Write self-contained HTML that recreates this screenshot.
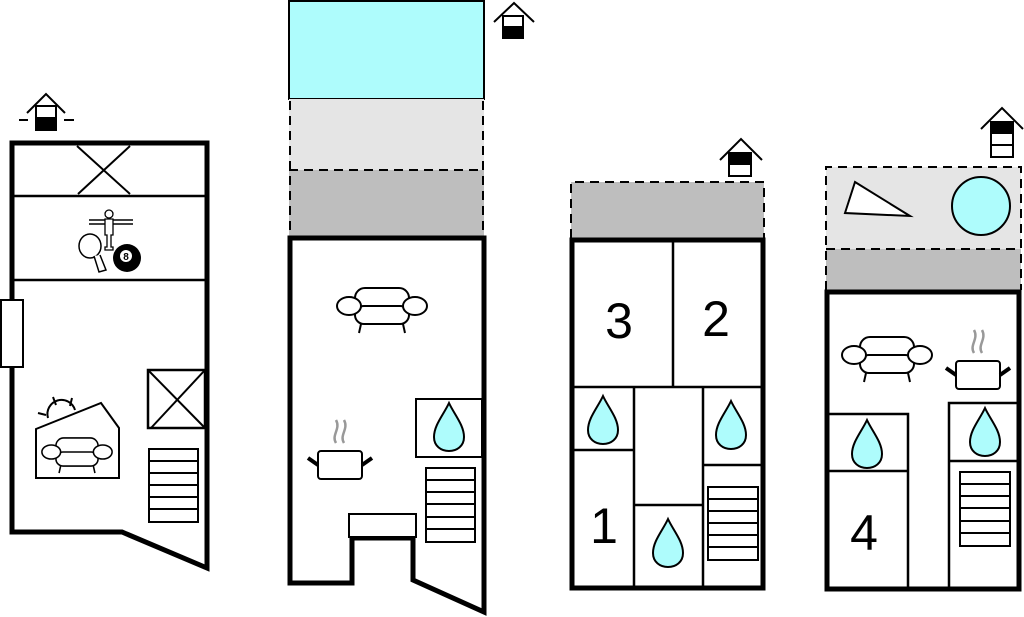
<!DOCTYPE html>
<html><head><meta charset="utf-8"><style>html,body{margin:0;padding:0;background:#fff;}svg{display:block}</style></head>
<body>
<svg width="1024" height="617" viewBox="0 0 1024 617" xmlns="http://www.w3.org/2000/svg" font-family="Liberation Sans, sans-serif">
<defs>
<g id="drop"><path d="M0,-24 C-5,-13 -15,-2 -15,10 C-15,19 -8,24 0,24 C8,24 15,19 15,10 C15,-2 5,-13 0,-24 Z" fill="#aefcfc" stroke="#000" stroke-width="2"/></g>
<g id="sofa" fill="#fff" stroke="#000" stroke-width="2">
<rect x="-27" y="-18" width="54" height="22" rx="10"/>
<rect x="-27" y="0" width="54" height="18" rx="9"/>
<ellipse cx="-33" cy="0" rx="12" ry="9"/>
<ellipse cx="33" cy="0" rx="12" ry="9"/>
<line x1="-21" y1="18" x2="-23" y2="27"/><line x1="21" y1="18" x2="23" y2="27"/>
</g>
<g id="pot">
<path d="M-4,-22 C-9,-30 1,-36 -4,-45 M4,-22 C-1,-30 9,-36 4,-45" fill="none" stroke="#999" stroke-width="2.5"/>
<rect x="-22" y="-14" width="44" height="28" rx="3" fill="#fff" stroke="#000" stroke-width="2"/>
<line x1="-22" y1="0" x2="-32" y2="-7" stroke="#000" stroke-width="4"/>
<line x1="22" y1="0" x2="32" y2="-7" stroke="#000" stroke-width="4"/>
</g>
</defs>

<!-- PLAN 1 -->
<g stroke="#000" fill="none">
<path d="M12,143 L207,143 L207,568 L122,532 L12,532 Z" stroke-width="5" fill="#fff"/>
<line x1="12" y1="196" x2="207" y2="196" stroke-width="2.5"/>
<line x1="12" y1="280" x2="207" y2="280" stroke-width="2.5"/>
<line x1="77" y1="146" x2="130" y2="194" stroke-width="2"/>
<line x1="130" y1="146" x2="78" y2="194" stroke-width="2"/>
<rect x="1" y="300" width="22" height="67" fill="#fff" stroke-width="2"/>
<rect x="148" y="370" width="57" height="58" stroke-width="2.5"/>
<line x1="148" y1="370" x2="205" y2="428" stroke-width="2"/><line x1="205" y1="370" x2="151" y2="428" stroke-width="2"/>
<rect x="149" y="449" width="49" height="73" stroke-width="2"/>
<path d="M149,461 H198 M149,473 H198 M149,485 H198 M149,497 H198 M149,509 H198" stroke-width="2"/>
<path d="M48,418 A14,14 0 0 1 75,410" stroke-width="2"/>
<path d="M53,397 L56,405 M72,398 L70,406 M38,413 L46,415" stroke-width="2"/>
<path d="M36,429 L101,403 L119,428 L119,478 L36,478 Z" fill="#fff" stroke-width="2"/>
<!-- games -->
<path d="M89,220 H133 M89,224 H133" stroke-width="1.5"/>
<circle cx="109" cy="214" r="4" fill="#fff" stroke-width="1.3"/>
<path d="M105,219 h8 v16 h-2 v12 h2 v3 h-8 v-3 h2 v-12 h-2 z" fill="#fff" stroke-width="1.3"/>
<ellipse cx="90" cy="246" rx="11" ry="12" fill="#fff" stroke-width="1.5"/>
<path d="M94,256 L99,272 L106,270 L100,255" fill="#fff" stroke-width="1.5"/>
</g>
<g transform="translate(77,452) scale(0.78)"><use href="#sofa"/></g>
<circle cx="127" cy="258" r="14" fill="#000"/>
<circle cx="126" cy="256" r="6" fill="#fff"/>
<text x="126" y="260" font-size="10" font-weight="bold" text-anchor="middle">8</text>
<!-- house icon 1 -->
<g stroke="#000" stroke-width="2" fill="none"><path d="M27,113 L46,94 L65,113"/><rect x="36" y="106" width="20" height="24" fill="#fff"/><rect x="36" y="118" width="20" height="12" fill="#000"/><path d="M19,120 H28 M64,120 H74"/></g>

<!-- PLAN 2 -->
<rect x="289" y="1" width="195" height="98" fill="#aefcfc" stroke="#000" stroke-width="2"/>
<rect x="289" y="99" width="195" height="71" fill="#e5e5e5"/>
<rect x="289" y="170" width="195" height="68" fill="#bebebe"/>
<g stroke="#000" stroke-width="2" stroke-dasharray="9,6" fill="none">
<path d="M290,101 V238 M483,101 V238 M289,170 H484"/></g>
<path d="M290,238 H484 V612 L413,580 V538 H352 V583 H290 Z" fill="#fff" stroke="#000" stroke-width="5"/>
<rect x="349" y="514" width="67" height="23" fill="#fff" stroke="#000" stroke-width="2"/>
<rect x="416" y="399" width="66" height="58" fill="#fff" stroke="#000" stroke-width="2"/>
<use href="#drop" x="449" y="427"/>
<g stroke="#000" stroke-width="2" fill="none"><rect x="426" y="468" width="49" height="74"/><path d="M426,480 H475 M426,492 H475 M426,504 H475 M426,517 H475 M426,529 H475"/></g>
<use href="#sofa" x="382" y="306"/>
<use href="#pot" x="340" y="465"/>
<g stroke="#000" stroke-width="2" fill="none"><path d="M494,22 L514,3 L534,22"/><rect x="503" y="16" width="20" height="22" fill="#fff"/><rect x="503" y="27" width="20" height="11" fill="#000"/></g>

<!-- PLAN 3 -->
<rect x="571" y="182" width="193" height="56" fill="#bebebe"/>
<path d="M571,238 V182 H764 V238" fill="none" stroke="#000" stroke-width="2" stroke-dasharray="9,6"/>
<rect x="572" y="240" width="191" height="348" fill="#fff" stroke="#000" stroke-width="5"/>
<g stroke="#000" stroke-width="2.5" fill="none">
<path d="M673,240 V387 M572,387 H763 M634,387 V588 M703,387 V588 M572,450 H634 M634,505 H703 M703,465 H763"/>
<rect x="708" y="487" width="50" height="73" stroke-width="2"/>
<path d="M708,499 H758 M708,511 H758 M708,523 H758 M708,535 H758 M708,547 H758" stroke-width="2"/>
</g>
<use href="#drop" x="603" y="420"/>
<use href="#drop" x="731" y="425"/>
<use href="#drop" x="668" y="543"/>
<text x="619" y="338" font-size="50" text-anchor="middle">3</text>
<text x="716" y="336" font-size="50" text-anchor="middle">2</text>
<text x="604" y="543" font-size="50" text-anchor="middle">1</text>
<g stroke="#000" stroke-width="2" fill="none"><path d="M720,160 L741,139 L762,160"/><rect x="729" y="153" width="22" height="23" fill="#fff"/><rect x="729" y="153" width="22" height="11" fill="#000"/></g>

<!-- PLAN 4 -->
<rect x="826" y="167" width="195" height="82" fill="#e5e5e5"/>
<rect x="826" y="249" width="195" height="41" fill="#bebebe"/>
<path d="M826,290 V167 H1021 V290 M826,249 H1021" fill="none" stroke="#000" stroke-width="2" stroke-dasharray="9,6"/>
<path d="M855,182 L910,216 L845,213 Z" fill="#fff" stroke="#000" stroke-width="2"/>
<circle cx="981" cy="206" r="29" fill="#aefcfc" stroke="#000" stroke-width="2"/>
<rect x="827" y="292" width="192" height="297" fill="#fff" stroke="#000" stroke-width="5"/>
<g stroke="#000" stroke-width="2.5" fill="none">
<path d="M827,414 H908 V589 M827,471 H908 M949,589 V403 H1019 M949,461 H1019"/>
<rect x="960" y="472" width="50" height="74" stroke-width="2"/>
<path d="M960,484 H1010 M960,496 H1010 M960,508 H1010 M960,521 H1010 M960,533 H1010" stroke-width="2"/>
</g>
<use href="#drop" x="867" y="444"/>
<use href="#drop" x="985" y="432"/>
<text x="864" y="550" font-size="50" text-anchor="middle">4</text>
<use href="#sofa" x="887" y="355"/>
<use href="#pot" x="978" y="375"/>
<g stroke="#000" stroke-width="2" fill="none"><path d="M981,129 L1002,108 L1023,129"/><rect x="991" y="122" width="22" height="35" fill="#fff"/><rect x="991" y="122" width="22" height="11" fill="#000"/><path d="M991,145 H1013"/></g>
</svg>
</body></html>
